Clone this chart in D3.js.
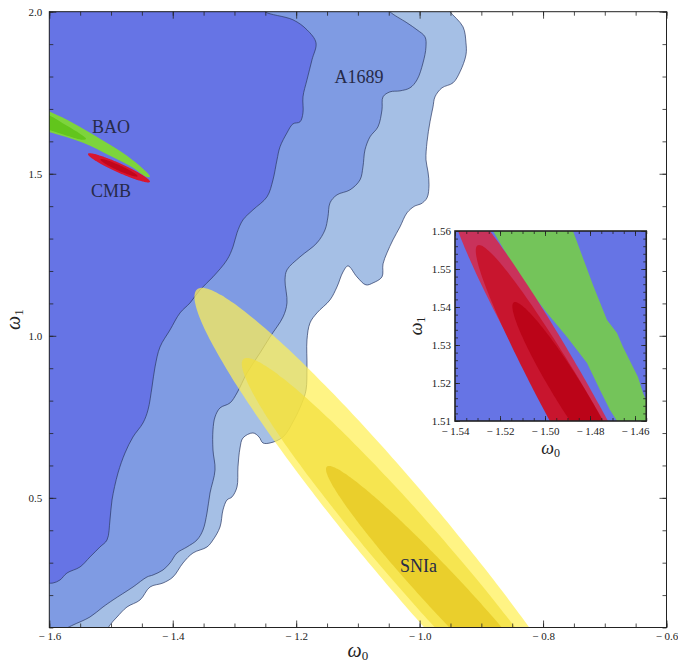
<!DOCTYPE html>
<html>
<head>
<meta charset="utf-8">
<script src="https://cdn.jsdelivr.net/npm/d3@7"></script>
<style>
  body { margin: 0; background: #fff; }
  svg { display: block; font-family: "Liberation Serif", "DejaVu Serif", serif; }
</style>
</head>
<body>
<svg id="chart" width="678" height="665"></svg>
<script>
// ---- data (w0, w1) ----
const xTickValues = [-1.6, -1.4, -1.2, -1.0, -0.8, -0.6];
const yTickValues = [0.5, 1.0, 1.5, 2.0];
const insetXTicks = [-1.54, -1.52, -1.50, -1.48, -1.46];
const insetYTicks = [1.51, 1.52, 1.53, 1.54, 1.55, 1.56];

// A1689 confidence boundaries, from the top edge down to the left / bottom edge
const a1689Sigma1 = [[-1.2538,2.012],[-1.2505,2.0],[-1.2052,1.975],[-1.1825,1.9441],[-1.1679,1.904],[-1.1744,1.8515],
  [-1.1825,1.7898],[-1.189,1.7373],[-1.189,1.688],[-1.1938,1.6602],[-1.2052,1.654],[-1.2149,1.6262],[-1.2262,1.583],
  [-1.2311,1.5429],[-1.2376,1.4811],[-1.2473,1.4287],[-1.27,1.3886],[-1.2862,1.3577],[-1.2959,1.3176],[-1.3024,1.2744],
  [-1.3121,1.2343],[-1.3348,1.1818],[-1.3558,1.1417],[-1.372,1.1015],[-1.3882,1.0707],[-1.4044,1.0182],[-1.4206,0.9657],
  [-1.4287,0.904],[-1.4336,0.8423],[-1.4401,0.7713],[-1.4482,0.7312],[-1.4644,0.688],[-1.4773,0.6386],[-1.4887,0.5768],
  [-1.4984,0.4935],[-1.5017,0.4318],[-1.5065,0.3701],[-1.5179,0.3485],[-1.5341,0.3176],[-1.5503,0.2867],[-1.5713,0.2682],
  [-1.5827,0.2466],[-1.594,0.2373],[-1.607,0.2373]];
const a1689Sigma2 = [[-1.0513,2.012],[-1.048,2.0],[-1.0205,1.9657],[-1.0042,1.9441],[-0.9913,1.9225],[-0.9897,1.8916],
  [-0.9945,1.8422],[-1.0042,1.7898],[-1.0156,1.7651],[-1.0318,1.7558],[-1.048,1.7527],[-1.0593,1.7373],[-1.061,1.6972],
  [-1.0675,1.6447],[-1.0804,1.6139],[-1.0885,1.5738],[-1.0918,1.5213],[-1.0966,1.4811],[-1.1128,1.4503],[-1.1339,1.4349],
  [-1.1452,1.4102],[-1.1485,1.367],[-1.1533,1.3269],[-1.1663,1.2867],[-1.1938,1.2435],[-1.2149,1.2034],[-1.2181,1.1725],
  [-1.2149,1.1015],[-1.2213,1.0583],[-1.2424,0.9966],[-1.2586,0.9472],[-1.2797,0.8855],[-1.2959,0.8238],[-1.3072,0.7929],
  [-1.3234,0.7775],[-1.3315,0.7497],[-1.3348,0.7096],[-1.3348,0.6478],[-1.3315,0.5861],[-1.3396,0.5151],[-1.3445,0.4534],
  [-1.351,0.4009],[-1.3607,0.3701],[-1.3769,0.3485],[-1.3931,0.3299],[-1.4044,0.2991],[-1.4158,0.2775],[-1.432,0.262],
  [-1.4417,0.2559],[-1.4644,0.225],[-1.4968,0.1849],[-1.513,0.1633],[-1.5341,0.1324],[-1.5616,0.1077],[-1.5713,0.0985],
  [-1.5827,0.0861]];
const a1689Sigma3 = [[-0.9541,2.012],[-0.9507,2.0],[-0.9297,1.9533],[-0.9249,1.904],[-0.9249,1.8669],[-0.9346,1.8144],
  [-0.9459,1.7805],[-0.9638,1.7651],[-0.9751,1.7373],[-0.9783,1.7064],[-0.9832,1.6602],[-0.988,1.5984],[-0.9897,1.5429],
  [-0.9864,1.5059],[-0.9848,1.4657],[-0.988,1.4256],[-0.9978,1.4071],[-1.0075,1.4009],[-1.0205,1.3793],[-1.0318,1.3361],
  [-1.0432,1.296],[-1.0529,1.2559],[-1.0593,1.2219],[-1.061,1.1818],[-1.0755,1.1633],[-1.0869,1.1571],[-1.1015,1.1818],
  [-1.116,1.2157],[-1.1241,1.1972],[-1.1339,1.1509],[-1.1452,1.1108],[-1.1663,1.0707],[-1.1776,1.0398],[-1.1825,0.9873],
  [-1.1825,0.904],[-1.184,0.833],[-1.1906,0.7929],[-1.2035,0.7404],[-1.2213,0.688],[-1.2424,0.6694],[-1.2538,0.6694],
  [-1.2602,0.688],[-1.27,0.7003],[-1.2862,0.6849],[-1.291,0.654],[-1.2943,0.5954],[-1.2959,0.5336],[-1.304,0.5028],
  [-1.3121,0.4935],[-1.3186,0.4627],[-1.3234,0.4102],[-1.3348,0.3701],[-1.3445,0.3485],[-1.3672,0.3299],[-1.3834,0.2991],
  [-1.3996,0.2559],[-1.4158,0.2373],[-1.4368,0.225],[-1.453,0.1849],[-1.4741,0.1633],[-1.4903,0.1324],[-1.5017,0.1077],
  [-1.5081,0.0861]];

// SNIa ellipses (3, 2, 1 sigma): centre and two conjugate semi-axes
const sniaCenter = [[-1.0221, 0.3701], [-1.0026, 0.3083], [-0.954, 0.1941]];
const sniaAxisU = [[-0.3305, 0.7778], [-0.2771, 0.6235], [-0.1928, 0.4043]];
const sniaAxisV = [[0.0907, 0], [0.0689, 0], [0.0437, 0]];

// BAO band (outer, inner)
const baoOuter = [[-1.6232,1.7157],[-1.6021,1.6941],[-1.5713,1.6664],[-1.5179,1.6077],[-1.4741,1.5552],[-1.4482,1.5151],
  [-1.4385,1.4966],[-1.4368,1.4904],[-1.4433,1.4904],[-1.4644,1.5182],[-1.5017,1.5552],[-1.5454,1.5954],[-1.6021,1.6294],
  [-1.6232,1.6386]];
const baoInner = [[-1.6232,1.6941],[-1.6021,1.6818],[-1.5713,1.6478],[-1.5503,1.6231],[-1.5405,1.6077],[-1.5454,1.6046],
  [-1.5713,1.617],[-1.6021,1.6355],[-1.6232,1.6448]];

// CMB ellipse in the main panel (outer, inner)
const cmbCenter = [[-1.4871, 1.5182], [-1.4871, 1.5182]];
const cmbAxisU = [[0.0502, -0.0432], [0.030, -0.026]];
const cmbAxisV = [[-0.0030, -0.0127], [-0.0018, -0.0076]];

// zoomed inset: BAO band and CMB ellipses (3, 2, 1 sigma)
const insetBao = [[-1.52667,1.56421],[-1.52311,1.56],[-1.51556,1.55237],[-1.508,1.54526],[-1.49911,1.53842],
  [-1.49022,1.53211],[-1.48133,1.52526],[-1.47556,1.51816],[-1.47111,1.51289],[-1.468,1.51],[-1.46578,1.50632],
  [-1.448,1.50632],[-1.448,1.5155],[-1.45511,1.51553],[-1.45644,1.51737],[-1.45867,1.52158],[-1.46089,1.52421],
  [-1.46533,1.52947],[-1.468,1.53316],[-1.47244,1.53658],[-1.47867,1.54579],[-1.48756,1.56],[-1.49022,1.56421]];
const insetCmbCenter = [[-1.49262, 1.51921], [-1.4800, 1.50368], [-1.4893, 1.51763]];
const insetCmbAxisU = [[-0.04822, 0.05053], [-0.04933, 0.05263], [-0.0240, 0.02368]];
const insetCmbAxisV = [[0.0120, 0], [0.0120, 0], [0.00769, 0]];

const labels = [
  { text: 'A1689', at: [-1.0982, 1.7804] },
  { text: 'BAO', at: [-1.5, 1.6262] },
  { text: 'CMB', at: [-1.5, 1.4287] },
  { text: 'SNIa', at: [-1.0019, 0.2713] }
];

// ---- drawing ----
const svg = d3.select('#chart');
const defs = svg.append('defs');

const x = d3.scaleLinear().domain([-1.6, -0.6]).range([49.3, 666.5]);
const y = d3.scaleLinear().domain([0.1, 2.0]).range([627.5, 11.7]);

const ix = d3.scaleLinear().domain([-1.54, -1.455]).range([455, 646.25]);
const iy = d3.scaleLinear().domain([1.51, 1.56]).range([421, 231]);

const angles = d3.range(0, 360, 2).map(d => d * Math.PI / 180);
function ellipse(c, u, v) {
  return angles.map(t => [c[0] + u[0] * Math.cos(t) + v[0] * Math.sin(t),
                          c[1] + u[1] * Math.cos(t) + v[1] * Math.sin(t)]);
}

function clipFor(id, xs, ys) {
  defs.append('clipPath').attr('id', id).append('rect')
    .attr('x', xs.range()[0]).attr('y', ys.range()[1])
    .attr('width', xs.range()[1] - xs.range()[0])
    .attr('height', ys.range()[0] - ys.range()[1]);
}
clipFor('clipMain', x, y);
clipFor('clipInset', ix, iy);

const plot = svg.append('g').attr('clip-path', 'url(#clipMain)');

const smooth = d3.line().x(d => x(d[0])).y(d => y(d[1])).curve(d3.curveCatmullRom.alpha(0.5));
const closed = d3.line().x(d => x(d[0])).y(d => y(d[1])).curve(d3.curveCatmullRomClosed.alpha(0.5));

function regionPath(b) {
  const first = b[0], last = b[b.length - 1];
  return smooth(b) + `L${x(-1.62)},${y(last[1])}L${x(-1.62)},${y(first[1])}Z`;
}

const a1689 = [
  { pts: a1689Sigma3, color: '#a5bfe5' },
  { pts: a1689Sigma2, color: '#7f9be3' },
  { pts: a1689Sigma1, color: '#6674e5' }
];
a1689.forEach(r => {
  plot.append('path').attr('d', regionPath(r.pts)).attr('fill', r.color);
});
a1689.forEach(r => {
  plot.append('path').attr('d', smooth(r.pts)).attr('fill', 'none')
    .attr('stroke', '#2c3a66').attr('stroke-opacity', 0.8).attr('stroke-width', 0.9);
});

// SNIa, semi transparent so the lensing contours show through
const sniaColors = ['#fff055', '#f2df3b', '#e5c61f'];
sniaCenter.forEach((c, i) => {
  plot.append('path')
    .attr('d', closed(ellipse(c, sniaAxisU[i], sniaAxisV[i])))
    .attr('fill', sniaColors[i]).attr('fill-opacity', 0.72);
});

plot.append('path').attr('d', closed(baoOuter)).attr('fill', '#7dd43c');
plot.append('path').attr('d', closed(baoInner)).attr('fill', '#62c51c');

const cmbColors = ['#d81530', '#c0061c'];
cmbCenter.forEach((c, i) => {
  plot.append('path')
    .attr('d', closed(ellipse(c, cmbAxisU[i], cmbAxisV[i])))
    .attr('fill', cmbColors[i]);
});

svg.append('g').selectAll('text').data(labels).enter().append('text')
  .attr('x', d => x(d.at[0])).attr('y', d => y(d.at[1]))
  .attr('text-anchor', 'middle')
  .attr('font-size', '18px')
  .attr('fill', '#262a48')
  .text(d => d.text);

// ---- frame with inward ticks on all four sides ----
const minus = v => (v < 0 ? '\u2212 ' : '');

function frame(xs, ys, opt) {
  const g = svg.append('g').attr('class', 'frame');
  const [x0, x1] = xs.range(), [y0, y1] = ys.range();
  const noLabel = () => '';
  const sides = [
    { mk: () => d3.axisBottom(xs), t: `translate(0,${y0})`, major: opt.xMajor, minor: opt.xMinor, fmt: opt.xFmt, pad: opt.xPad },
    { mk: () => d3.axisTop(xs), t: `translate(0,${y1})`, major: opt.xMajor, minor: opt.xMinor, fmt: noLabel, pad: 3 },
    { mk: () => d3.axisLeft(ys), t: `translate(${x0},0)`, major: opt.yMajor, minor: opt.yMinor, fmt: opt.yFmt, pad: opt.yPad },
    { mk: () => d3.axisRight(ys), t: `translate(${x1},0)`, major: opt.yMajor, minor: opt.yMinor, fmt: noLabel, pad: 3 }
  ];
  sides.forEach(s => {
    const a = g.append('g').attr('transform', s.t);
    a.append('g').call(s.mk().tickValues(s.minor).tickSize(-opt.minorLen).tickFormat(noLabel));
    a.append('g').call(s.mk().tickValues(s.major).tickSize(-opt.majorLen).tickPadding(s.pad).tickFormat(s.fmt));
    a.selectAll('.domain').remove();
    a.selectAll('line').attr('stroke', '#222').attr('stroke-width', 0.8);
    a.selectAll('text').attr('font-size', opt.fontSize).attr('fill', '#222')
      .attr('font-family', '"Liberation Serif", serif');
  });
  g.append('rect').attr('x', x0).attr('y', y1).attr('width', x1 - x0).attr('height', y0 - y1)
    .attr('fill', 'none').attr('stroke', '#222').attr('stroke-width', opt.frameWidth);
}

frame(x, y, {
  xMajor: xTickValues, xMinor: d3.range(-1.6, -0.599, 0.05),
  yMajor: yTickValues, yMinor: d3.range(0.1, 2.001, 0.1),
  xFmt: v => minus(v) + d3.format('.1f')(Math.abs(v)),
  yFmt: v => d3.format('.1f')(v),
  majorLen: 7, minorLen: 4, xPad: 5, yPad: 7, fontSize: '11px', frameWidth: 1
});

function axisTitle(sel, sub, size, subSize) {
  sel.attr('font-size', size).attr('font-style', 'italic').attr('fill', '#222')
    .text('ω').append('tspan').attr('font-size', subSize).attr('font-style', 'normal')
    .attr('dy', 3).text(sub);
}

// axis titles
axisTitle(svg.append('text').attr('x', x(-1.1)).attr('y', 657).attr('text-anchor', 'middle'), '0', '20px', '13px');
axisTitle(svg.append('text').attr('transform', `translate(20,${y(1.05)}) rotate(-90)`).attr('text-anchor', 'middle'),
  '1', '20px', '13px');

// ---- inset: zoom on the CMB / BAO overlap ----
const inset = svg.append('g').attr('clip-path', 'url(#clipInset)');
inset.append('rect').attr('x', ix(-1.54)).attr('y', iy(1.56))
  .attr('width', ix(-1.455) - ix(-1.54)).attr('height', iy(1.51) - iy(1.56))
  .attr('fill', '#6674e5');

const iline = d3.line().x(d => ix(d[0])).y(d => iy(d[1])).curve(d3.curveLinearClosed);
inset.append('path').attr('d', iline(insetBao)).attr('fill', '#74c45a');

const insetCmbColors = ['#c9325b', '#c8152e', '#bb0418'];
insetCmbCenter.forEach((c, i) => {
  inset.append('path')
    .attr('d', iline(ellipse(c, insetCmbAxisU[i], insetCmbAxisV[i])))
    .attr('fill', insetCmbColors[i]);
});

frame(ix, iy, {
  xMajor: insetXTicks, xMinor: d3.range(-1.54, -1.4549, 0.005),
  yMajor: insetYTicks, yMinor: d3.range(1.51, 1.5601, 0.002),
  xFmt: v => minus(v) + d3.format('.2f')(Math.abs(v)),
  yFmt: v => d3.format('.2f')(v),
  majorLen: 5, minorLen: 3, xPad: 6, yPad: 4, fontSize: '11px', frameWidth: 1.6
});

axisTitle(svg.append('text').attr('x', ix(-1.4975)).attr('y', 454).attr('text-anchor', 'middle'), '0', '18px', '12px');
axisTitle(svg.append('text').attr('transform', `translate(422,${iy(1.535)}) rotate(-90)`).attr('text-anchor', 'middle'),
  '1', '18px', '12px');
</script>
</body>
</html>
